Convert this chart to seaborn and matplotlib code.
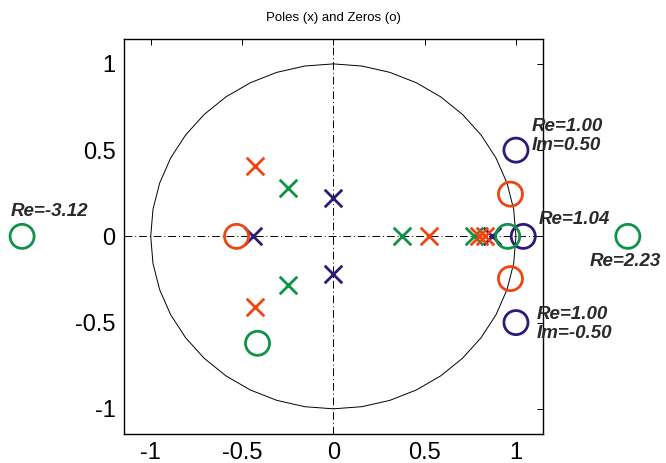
import numpy as np
import pandas as pd
import matplotlib
matplotlib.use("Agg")
import matplotlib.pyplot as plt
import matplotlib.transforms as mtransforms
import seaborn as sns

sns.set_theme(style="white")
plt.rcParams['font.family'] = ['Liberation Sans', 'DejaVu Sans']

# ---- data ----
# poles (x markers)
pole_purple_re = [0.0, 0.0, -0.44, 0.87]
pole_purple_im = [0.22, -0.22, 0.0, 0.0]
pole_green_re = [-0.25, -0.25, 0.375, 0.77]
pole_green_im = [0.28, -0.28, 0.0, 0.0]
pole_orange_re = [-0.43, -0.43, 0.525, 0.795, 0.83]
pole_orange_im = [0.41, -0.41, 0.0, 0.0, 0.0]
# zeros (o markers) inside the view
zero_orange_re = [-0.53, 0.97, 0.97]
zero_orange_im = [0.0, 0.245, -0.245]
zero_green_re = [-0.415, 0.955]
zero_green_im = [-0.62, 0.0]
zero_purple_re = [1.00, 1.00, 1.04]
zero_purple_im = [0.50, -0.50, 0.0]
# zeros far outside the view (shown at the margins)
zero_far_re = [-3.12, 2.23]
zero_far_im = [0.0, 0.0]

labels = ["Re=-3.12", "Re=1.00\nIm=0.50", "Re=1.04", "Re=2.23", "Re=1.00\nIm=-0.50"]

x_ticks = [-1, -0.5, 0, 0.5, 1]
y_ticks = [-1, -0.5, 0, 0.5, 1]
tick_labels = ["-1", "-0.5", "0", "0.5", "1"]

title = "Poles (x) and Zeros (o)"

C_ORANGE = "#EE4512"
C_GREEN = "#0E9447"
C_PURPLE = "#2E1A78"

fig = plt.figure(figsize=(6.66, 4.63), dpi=100)
ax = fig.add_axes([0.186, 0.063, 0.629, 0.853])

# unit circle (coarse polygon like the original)
th = np.linspace(0, 2 * np.pi, 41)
circ = pd.DataFrame({"x": np.cos(th), "y": np.sin(th), "o": np.arange(th.size)})
sns.lineplot(data=circ, x="x", y="y", sort=False, estimator=None, color="black",
             lw=0.7, ax=ax, zorder=1)

ax.axhline(0, color="black", lw=0.7, ls=(0, (8, 3, 1, 3)), zorder=1)
ax.axvline(0, color="black", lw=0.7, ls=(0, (8, 3, 1, 3)), zorder=1)

xs = 160
os_ = 300
for re_, im_, c in [(pole_purple_re, pole_purple_im, C_PURPLE),
                    (pole_green_re, pole_green_im, C_GREEN),
                    (pole_orange_re, pole_orange_im, C_ORANGE)]:
    sns.scatterplot(x=re_, y=im_, marker="x", s=xs, color=c, linewidth=2.0,
                    ax=ax, zorder=3)

for re_, im_, c in [(zero_orange_re, zero_orange_im, C_ORANGE),
                    (zero_purple_re, zero_purple_im, C_PURPLE),
                    (zero_green_re, zero_green_im, C_GREEN)]:
    sns.scatterplot(x=re_, y=im_, marker="o", s=os_, facecolor="none",
                    edgecolor=c, linewidth=2.0, ax=ax, zorder=4)

# far zeros drawn outside the axes at the margins
blend = mtransforms.blended_transform_factory(ax.transAxes, ax.transData)
far_x = [-0.243 if r < 0 else 1.203 for r in zero_far_re]
ax.scatter(far_x, zero_far_im, marker="o", s=os_, facecolor="none",
           edgecolor=C_GREEN, linewidth=2.0, transform=blend, clip_on=False, zorder=4)

ax.set_xlim(-1.147, 1.147)
ax.set_ylim(-1.145, 1.145)
ax.set_xticks(x_ticks)
ax.set_xticklabels(tick_labels)
ax.set_yticks(y_ticks)
ax.set_yticklabels(tick_labels)
ax.set_xlabel("")
ax.set_ylabel("")
ax.tick_params(direction="in", length=4, width=0.7, top=True, right=True,
               labelsize=17, colors="black", pad=6)
for sp in ax.spines.values():
    sp.set_color("black")
    sp.set_linewidth(1.0)

lab_font = dict(family=["Liberation Sans", "DejaVu Sans"],
                weight="bold", style="italic", fontsize=13.5, color="#2a2a2a",
                linespacing=1.1)
# label positions in figure pixels (layout)
lab_pos = [(11, 212), (532, 136), (539, 219), (590, 261), (537, 324)]
for t, (px, py) in zip(labels, lab_pos):
    fig.text(px / 666, 1 - py / 463, t, ha="left", va="center", **lab_font)

fig.text(333.5 / 666, 1 - 18 / 463, title, ha="center", va="center",
         fontsize=9.5, color="black")

fig.savefig("out.png", dpi=100)
